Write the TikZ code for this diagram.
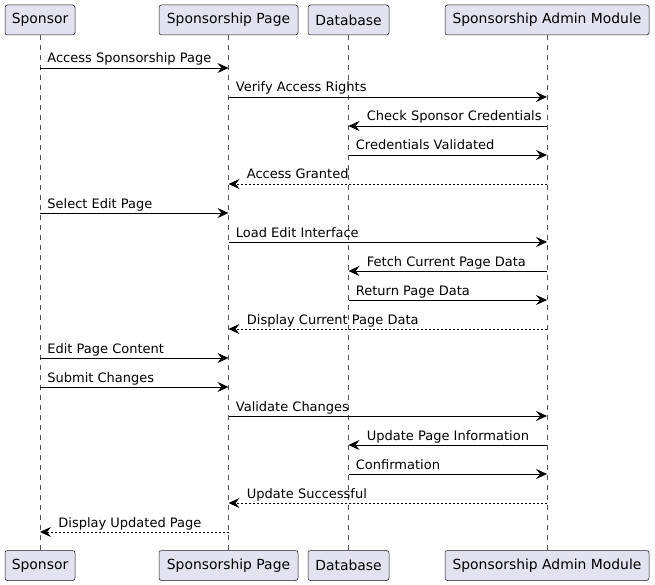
\documentclass[tikz,border=0pt]{standalone}
\usepackage{fontspec}
\setmainfont{DejaVu Sans}
\usetikzlibrary{arrows.meta}
\definecolor{partfill}{HTML}{E2E2F0}
\definecolor{partline}{HTML}{181818}
\begin{document}
\begin{tikzpicture}[x=1pt,y=-1pt]
            \tikzstyle{every node}+=[inner sep=0pt]
            \tikzstyle{part}=[draw=partline, fill=partfill, rounded corners=2.5pt, line width=0.5pt, minimum height=30pt, font=\fontsize{13.9}{16}\selectfont]
            \tikzstyle{life}=[draw=partline!75, line width=0.5pt, dash pattern=on 5pt off 5pt]
            \tikzstyle{msg}=[line width=0.8pt, -{Stealth[length=11pt,width=10pt,inset=4pt]}]
            \tikzstyle{back}=[msg, dash pattern=on 2pt off 2pt]
            \tikzstyle{lblR}=[pos=0, anchor=base west, xshift=7pt, yshift=5pt, font=\fontsize{13}{15}\selectfont]
            \tikzstyle{lblL}=[pos=1, anchor=base west, xshift=18pt, yshift=5pt, font=\fontsize{13}{15}\selectfont]
                \useasboundingbox (0,0) rectangle (655,585);
                % participants
                \node [part, minimum width=70pt] (sp) at (40,20) {Sponsor};
                \node [part, minimum width=139pt] (pg) at (228.5,20) {Sponsorship Page};
                \node [part, minimum width=81pt] (db) at (348.5,20) {Database};
                \node [part, minimum width=204pt] (adm) at (547,20) {Sponsorship Admin Module};
                \node [part, minimum width=70pt] (spB) at (40,565.5) {Sponsor};
                \node [part, minimum width=139pt] (pgB) at (228.5,565.5) {Sponsorship Page};
                \node [part, minimum width=81pt] (dbB) at (348.5,565.5) {Database};
                \node [part, minimum width=204pt] (admB) at (547,565.5) {Sponsorship Admin Module};
                % lifelines
                \draw [life] (sp) -- (spB);
                \draw [life] (pg) -- (pgB);
                \draw [life] (db) -- (dbB);
                \draw [life] (adm) -- (admB);
                % messages
                \draw [msg] (sp |- 0,68) -- node [lblR] {Access Sponsorship Page} (pg |- 0,68);
                \draw [msg] (pg |- 0,97) -- node [lblR] {Verify Access Rights} (adm |- 0,97);
                \draw [msg] (adm |- 0,126) -- node [lblL] {Check Sponsor Credentials} (db |- 0,126);
                \draw [msg] (db |- 0,155) -- node [lblR] {Credentials Validated} (adm |- 0,155);
                \draw [back] (adm |- 0,184) -- node [lblL] {Access Granted} (pg |- 0,184);
                \draw [msg] (sp |- 0,213) -- node [lblR] {Select Edit Page} (pg |- 0,213);
                \draw [msg] (pg |- 0,242) -- node [lblR] {Load Edit Interface} (adm |- 0,242);
                \draw [msg] (adm |- 0,271) -- node [lblL] {Fetch Current Page Data} (db |- 0,271);
                \draw [msg] (db |- 0,300) -- node [lblR] {Return Page Data} (adm |- 0,300);
                \draw [back] (adm |- 0,329) -- node [lblL] {Display Current Page Data} (pg |- 0,329);
                \draw [msg] (sp |- 0,358) -- node [lblR] {Edit Page Content} (pg |- 0,358);
                \draw [msg] (sp |- 0,387) -- node [lblR] {Submit Changes} (pg |- 0,387);
                \draw [msg] (pg |- 0,416) -- node [lblR] {Validate Changes} (adm |- 0,416);
                \draw [msg] (adm |- 0,445) -- node [lblL] {Update Page Information} (db |- 0,445);
                \draw [msg] (db |- 0,474) -- node [lblR] {Confirmation} (adm |- 0,474);
                \draw [back] (adm |- 0,503) -- node [lblL] {Update Successful} (pg |- 0,503);
                \draw [back] (pg |- 0,532) -- node [lblL] {Display Updated Page} (sp |- 0,532);
            \end{tikzpicture}
\end{document}
